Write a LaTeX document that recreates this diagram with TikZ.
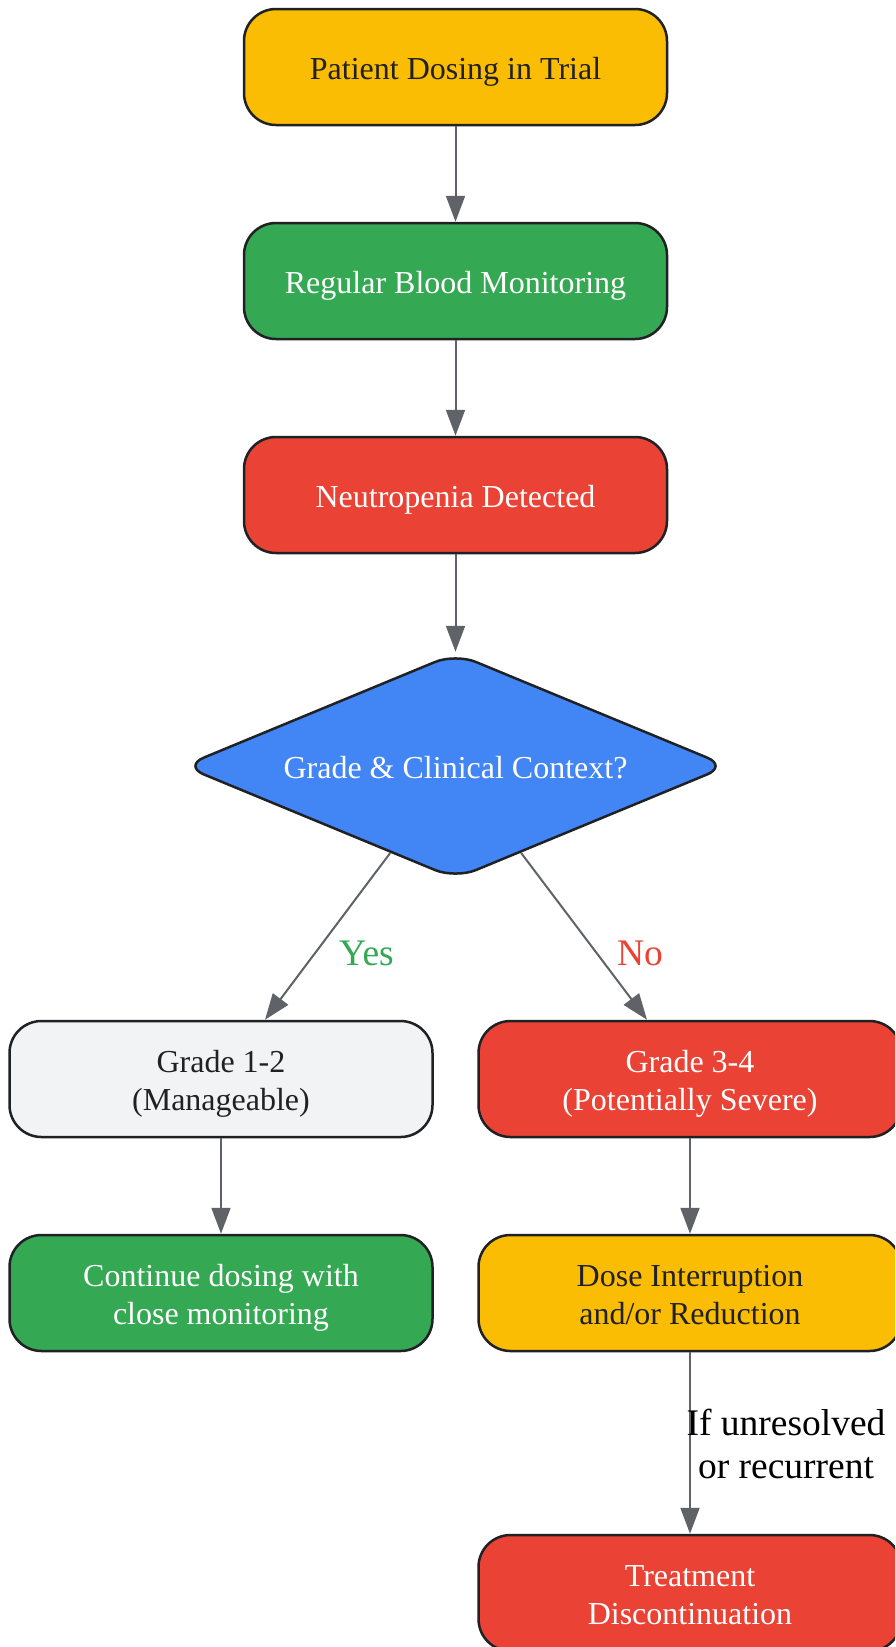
\documentclass[tikz,border=0pt]{standalone}
\usepackage{fontspec}
\setmainfont{Liberation Serif}
\usetikzlibrary{shapes.geometric,arrows.meta}
\definecolor{gyellow}{HTML}{FBBC04}
\definecolor{ggreen}{HTML}{34A853}
\definecolor{gred}{HTML}{EA4335}
\definecolor{gblue}{HTML}{4285F4}
\definecolor{ggray}{HTML}{F1F3F4}
\definecolor{dark}{HTML}{202124}
\definecolor{arrowc}{HTML}{5F6368}
\newcommand\topstrut{\rule[-0.216em]{0pt}{1.24em}}
\newcommand\botstrut{\rule[-0.216em]{0pt}{0.9em}}
\begin{document}
\begin{tikzpicture}[x=1pt,y=-1pt,
  box/.style={draw=dark, line width=2.5pt, rounded corners=32pt, minimum width=423pt, minimum height=116pt, align=center, inner sep=0pt, font=\fontsize{32}{38}\selectfont},
  decide/.style={shape=diamond, draw=dark, line width=2.5pt, rounded corners=22pt, minimum width=545pt, minimum height=226pt, inner sep=0pt, aspect=2.43, font=\fontsize{32}{38}\selectfont},
  arr/.style={draw=arrowc, line width=2pt, -{Triangle[length=26pt,width=19pt]}},
  elabel/.style={align=center, font=\fontsize{37.5}{43.5}\selectfont, inner sep=0pt}]
\useasboundingbox (0,0) rectangle (895,1647);
\clip (0,0) rectangle (895,1647);
\fill[white] (0,0) rectangle (895,1647);

\node[box, fill=gyellow, text=dark] (start) at (455.5,67) {\topstrut Patient Dosing in Trial\botstrut};
\node[box, fill=ggreen, text=white] (mon) at (455.5,281) {\topstrut Regular Blood Monitoring\botstrut};
\node[box, fill=gred, text=white] (neut) at (455.5,495) {\topstrut Neutropenia Detected\botstrut};
\node[decide, fill=gblue, text=white] (dia) at (455.5,766) {\topstrut Grade \& Clinical Context?\botstrut};
\node[box, fill=ggray, text=dark] (g12) at (221,1079) {\topstrut Grade 1-2\\(Manageable)\botstrut};
\node[box, fill=gred, text=white] (g34) at (690,1079) {\topstrut Grade 3-4\\(Potentially Severe)\botstrut};
\node[box, fill=ggreen, text=white] (cont) at (221,1293) {\topstrut Continue dosing with\\close monitoring\botstrut};
\node[box, fill=gyellow, text=dark] (dose) at (690,1293) {\topstrut Dose Interruption\\and/or Reduction\botstrut};
\node[box, fill=gred, text=white] (disc) at (690,1593) {\topstrut Treatment\\Discontinuation\botstrut};

\draw[arr] (start) -- (mon);
\draw[arr] (mon) -- (neut);
\draw[arr] (neut) -- (dia);
\draw[arr] (dia) -- ([xshift=44pt]g12.north);
\draw[arr] (dia) -- ([xshift=-43pt]g34.north);
\draw[arr] (g12) -- (cont);
\draw[arr] (g34) -- (dose);
\draw[arr] (dose) -- (disc);

\node[elabel, text=ggreen] (yes) at (366.5,953) {Yes};
\node[elabel, text=gred] (no) at (640,953) {No};
\node[elabel, text=black] (unres) at (786,1444) {If unresolved\\or recurrent};
\end{tikzpicture}
\end{document}
